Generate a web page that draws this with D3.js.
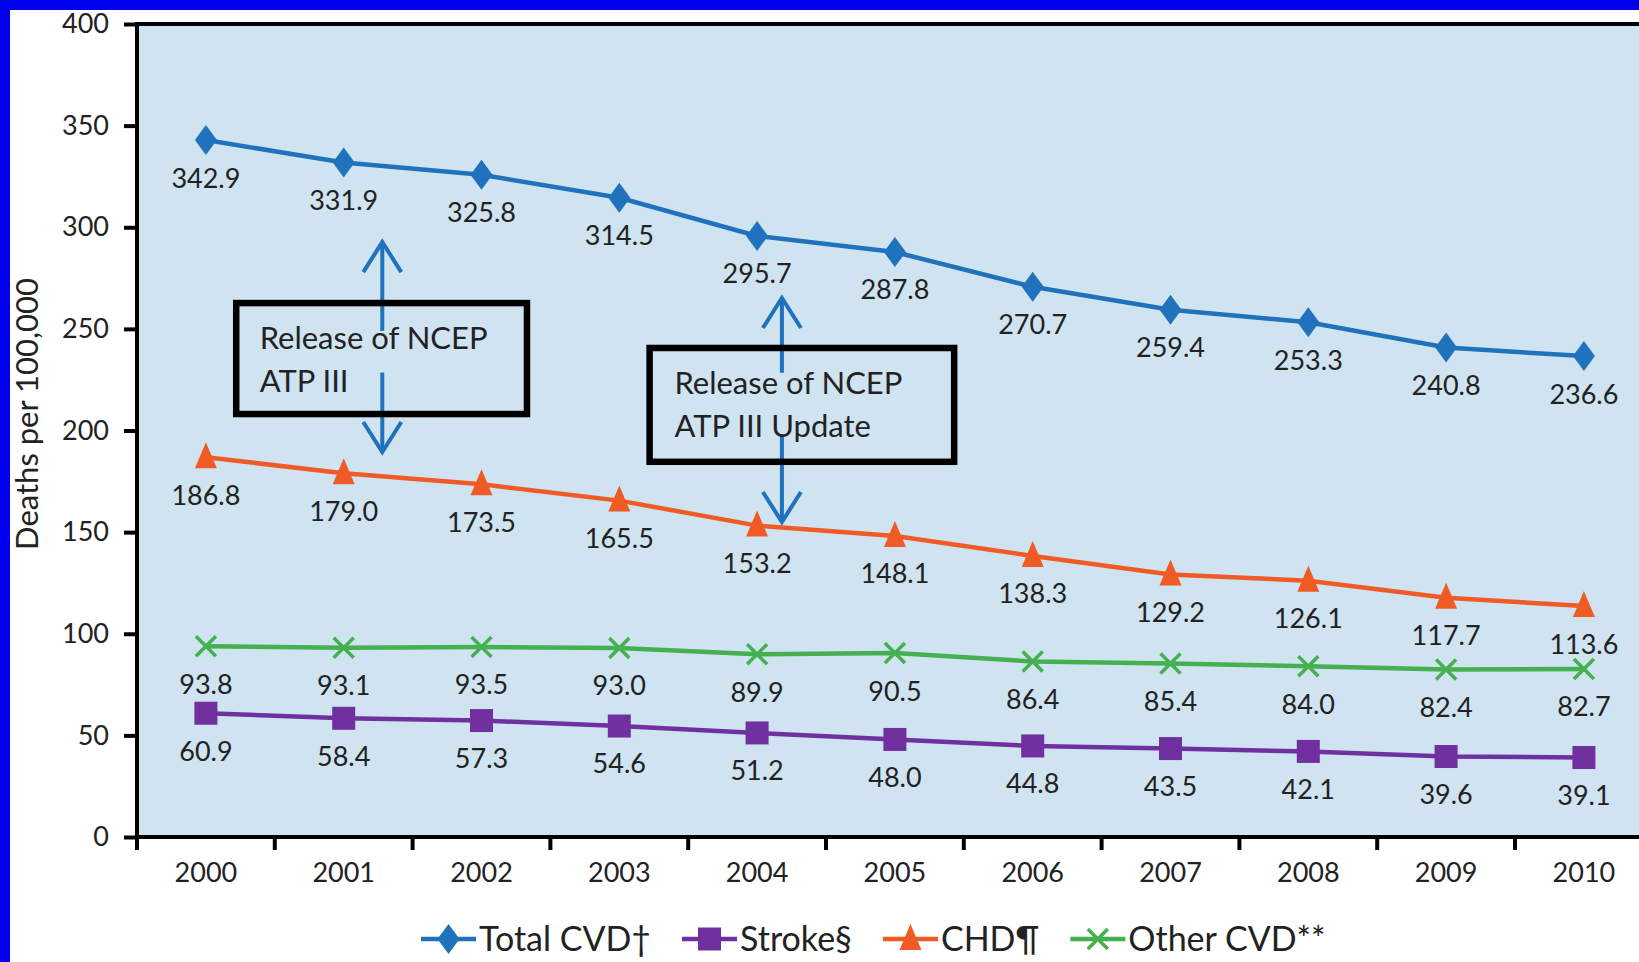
<!DOCTYPE html>
<html>
<head>
<meta charset="utf-8">
<script src="https://cdn.jsdelivr.net/npm/d3@7"></script>
<style>
  html, body { margin: 0; padding: 0; background: #ffffff; }
  svg { display: block; }
  text { font-family: Lato, "Open Sans", "Noto Sans", sans-serif; fill: #222; }
</style>
</head>
<body>
<svg id="chart" width="1639" height="962"></svg>
<script>
// Age-adjusted death rates, 2000-2010
const years = [2000, 2001, 2002, 2003, 2004, 2005, 2006, 2007, 2008, 2009, 2010];
const totalCVD = [342.9, 331.9, 325.8, 314.5, 295.7, 287.8, 270.7, 259.4, 253.3, 240.8, 236.6];
const stroke   = [60.9, 58.4, 57.3, 54.6, 51.2, 48.0, 44.8, 43.5, 42.1, 39.6, 39.1];
const chd      = [186.8, 179.0, 173.5, 165.5, 153.2, 148.1, 138.3, 129.2, 126.1, 117.7, 113.6];
const otherCVD = [93.8, 93.1, 93.5, 93.0, 89.9, 90.5, 86.4, 85.4, 84.0, 82.4, 82.7];
const yTicks = [0, 50, 100, 150, 200, 250, 300, 350, 400];
const seriesNames = ["Total CVD\u2020", "Stroke\u00a7", "CHD\u00b6", "Other CVD**"];

// Guideline releases: year position (fractional) and the text of each callout
const releaseYears = [2001.28, 2004.18];
const releaseText = [["Release of NCEP", "ATP III"], ["Release of NCEP", "ATP III Update"]];

const svg = d3.select("#chart");
const W = 1639, H = 962;
const plot = { left: 137, top: 24, bottom: 837, bandW: 137.8 };

const x = d3.scaleBand().domain(years).range([plot.left, plot.left + plot.bandW * years.length]).padding(0);
const cx = yr => x(yr) + x.bandwidth() / 2;
const xFrac = v => { const base = Math.floor(v); return cx(base) + (v - base) * x.bandwidth(); };
const y = d3.scaleLinear().domain([0, 400]).range([plot.bottom, plot.top]);

// page frame
svg.append("rect").attr("width", W).attr("height", H).attr("fill", "#ffffff");
svg.append("rect").attr("x", 0).attr("y", 0).attr("width", W).attr("height", 10).attr("fill", "#0000ee");
svg.append("rect").attr("x", 0).attr("y", 0).attr("width", 10).attr("height", H).attr("fill", "#0000ee");

// plot area
const right = x.range()[1];
svg.append("rect").attr("x", plot.left).attr("y", plot.top)
  .attr("width", right - plot.left).attr("height", plot.bottom - plot.top)
  .attr("fill", "#cfe3f1");

// marker shapes
const shapes = {
  diamond: (g, px, py, c) => g.append("path")
    .attr("d", `M${px},${py - 15}L${px + 11},${py}L${px},${py + 15}L${px - 11},${py}Z`).attr("fill", c),
  square: (g, px, py, c) => g.append("rect")
    .attr("x", px - 11.5).attr("y", py - 11.5).attr("width", 23).attr("height", 23).attr("fill", c),
  triangle: (g, px, py, c) => g.append("path")
    .attr("d", `M${px},${py - 15}L${px + 11},${py + 11}L${px - 11},${py + 11}Z`).attr("fill", c),
  cross: (g, px, py, c) => g.append("path")
    .attr("d", `M${px - 10},${py - 10}L${px + 10},${py + 10}M${px - 10},${py + 10}L${px + 10},${py - 10}`)
    .attr("stroke", c).attr("stroke-width", 3.5).attr("fill", "none")
};

const series = [
  { name: seriesNames[0], values: totalCVD, color: "#1f72bb", shape: "diamond" },
  { name: seriesNames[1], values: stroke,   color: "#7030a0", shape: "square" },
  { name: seriesNames[2], values: chd,      color: "#f05a24", shape: "triangle" },
  { name: seriesNames[3], values: otherCVD, color: "#45b04f", shape: "cross" }
];

const line = d3.line().x((d, i) => cx(years[i])).y(d => y(d));

series.forEach(s => {
  const g = svg.append("g");
  g.append("path").attr("d", line(s.values)).attr("fill", "none")
    .attr("stroke", s.color).attr("stroke-width", 4.5);
  s.values.forEach((v, i) => shapes[s.shape](g, cx(years[i]), y(v), s.color));
  g.selectAll("text.val").data(s.values).join("text").attr("class", "val")
    .attr("x", (d, i) => cx(years[i]))
    .attr("y", d => y(d) + 38)
    .attr("dy", "0.35em")
    .attr("text-anchor", "middle")
    .attr("font-size", 27)
    .text(d => d.toFixed(1));
});

// guideline release annotations: box, label and double arrow
const boxes = [
  { x0: 2000.22, x1: 2002.33, yTop: 262.7, yBot: 208.1, textX: 2000.39, up: [292.7, 249.0], down: [228.5, 189.4] },
  { x0: 2003.22, x1: 2005.43, yTop: 240.6, yBot: 184.6, textX: 2003.40, up: [265.2, 228.4], down: [198.0, 155.0] }
];
boxes.forEach((b, k) => {
  const g = svg.append("g");
  const ax = xFrac(releaseYears[k]);
  const arrowColor = "#1f72bb";
  // shafts
  g.append("line").attr("x1", ax).attr("x2", ax).attr("y1", y(b.up[0])).attr("y2", y(b.up[1]))
    .attr("stroke", arrowColor).attr("stroke-width", 4);
  g.append("line").attr("x1", ax).attr("x2", ax).attr("y1", y(b.down[0])).attr("y2", y(b.down[1]))
    .attr("stroke", arrowColor).attr("stroke-width", 4);
  // open chevron heads
  const tu = y(b.up[0]), td = y(b.down[1]);
  g.append("path").attr("d", `M${ax - 19},${tu + 30}L${ax},${tu}L${ax + 19},${tu + 30}`)
    .attr("fill", "none").attr("stroke", arrowColor).attr("stroke-width", 4);
  g.append("path").attr("d", `M${ax - 19},${td - 30}L${ax},${td}L${ax + 19},${td - 30}`)
    .attr("fill", "none").attr("stroke", arrowColor).attr("stroke-width", 4);
  // box
  g.append("rect").attr("x", xFrac(b.x0)).attr("y", y(b.yTop))
    .attr("width", xFrac(b.x1) - xFrac(b.x0)).attr("height", y(b.yBot) - y(b.yTop))
    .attr("fill", "none").attr("stroke", "#000").attr("stroke-width", 6.5);
  releaseText[k].forEach((t, j) => {
    g.append("text").attr("x", xFrac(b.textX)).attr("y", y(b.yTop) + 46 + j * 43)
      .attr("font-size", 31).text(t);
  });
});

// axes
const yAxis = d3.axisLeft(y).tickValues(yTicks).tickSize(13).tickPadding(15);
const gy = svg.append("g").attr("transform", `translate(${plot.left},0)`).call(yAxis);
gy.select(".domain").remove();
gy.selectAll(".tick line").attr("stroke", "#000").attr("stroke-width", 4);
gy.selectAll(".tick text").attr("font-size", 27).attr("fill", "#222")
  .style("font-family", "Lato, 'Open Sans', sans-serif");

const xAxis = d3.axisBottom(x).tickSize(0).tickPadding(26);
const gx = svg.append("g").attr("transform", `translate(0,${plot.bottom})`).call(xAxis);
gx.select(".domain").remove();
gx.selectAll(".tick text").attr("font-size", 27).attr("fill", "#222")
  .style("font-family", "Lato, 'Open Sans', sans-serif");

// boundary ticks between the year bands
const edges = years.map(yr => x(yr)).concat([right]);
svg.append("g").selectAll("line").data(edges).join("line")
  .attr("x1", d => d).attr("x2", d => d).attr("y1", plot.bottom).attr("y2", plot.bottom + 13)
  .attr("stroke", "#000").attr("stroke-width", 4);

// frame lines: left axis, bottom axis, top border
svg.append("line").attr("x1", plot.left).attr("x2", plot.left).attr("y1", plot.top - 2).attr("y2", plot.bottom + 2)
  .attr("stroke", "#000").attr("stroke-width", 4);
svg.append("line").attr("x1", plot.left).attr("x2", right).attr("y1", plot.bottom).attr("y2", plot.bottom)
  .attr("stroke", "#000").attr("stroke-width", 4);
svg.append("line").attr("x1", plot.left).attr("x2", right).attr("y1", plot.top).attr("y2", plot.top)
  .attr("stroke", "#000").attr("stroke-width", 4);

// y axis title
svg.append("text").attr("transform", "translate(27,414) rotate(-90)")
  .attr("text-anchor", "middle").attr("dy", "0.35em").attr("font-size", 31)
  .text("Deaths per 100,000");

// legend
const legend = svg.append("g");
let lx = 421;
const ly = 939;
series.forEach(s => {
  const g = legend.append("g");
  g.append("line").attr("x1", lx).attr("x2", lx + 55).attr("y1", ly).attr("y2", ly)
    .attr("stroke", s.color).attr("stroke-width", 4.5);
  shapes[s.shape](g, lx + 27.5, ly, s.color);
  const t = g.append("text").attr("x", lx + 58).attr("y", ly).attr("dy", "0.35em")
    .attr("font-size", 34).text(s.name);
  lx += 58 + t.node().getComputedTextLength() + 31;
});
</script>
</body>
</html>
